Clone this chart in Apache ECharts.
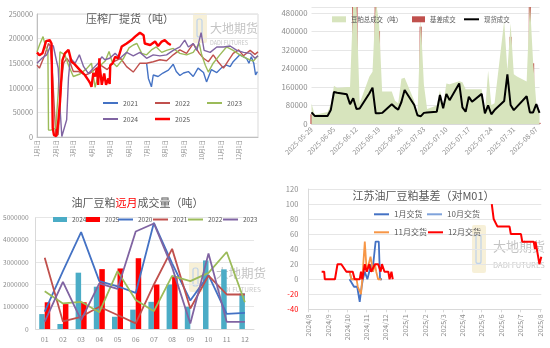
<!DOCTYPE html>
<html><head><meta charset="utf-8">
<script src="https://cdn.jsdelivr.net/npm/echarts@6/dist/echarts.min.js"></script>
<style>html,body{margin:0;padding:0;background:#fff}#c{width:550px;height:348px}</style>
</head><body><div id="c"></div>
<script>
const N = null;
const FONT = '"Noto Sans CJK SC","Noto Sans",sans-serif';
const GRAY = '#8C8C8C';
const TXT = '#595959';

// ---------- Panel 1: 压榨厂提货（吨） ----------
const monthStarts = [0,31,59,90,120,151,181,212,243,273,304,334];
const monthLabels = ['1月1日','2月1日','3月1日','4月1日','5月1日','6月1日','7月1日','8月1日','9月1日','10月1日','11月1日','12月1日'];
const d21 = [181,184,189,192,200,208,217,225,230,236,242,250,258,266,275,280,288,297,305,313,319,324,335,346,350,354,358,361,364];
const v21 = [150000,119000,102000,126000,123000,130000,136000,148000,133000,125000,130000,133000,123000,140000,131000,112000,137000,131000,141000,146000,143000,153000,167000,160000,150000,163000,150000,126000,133000];
const d22 = [0,4,13,19,22,26,31,35,40,44,49,55,60,69,80,88,96,105,116,127,138,148,159,170,181,192,203,214,225,236,247,258,268,275,283,291,299,308,316,324,333,341,352,360,365];
const v22 = [146000,140000,167000,190000,185000,120000,3000,5000,110000,150000,160000,150000,133000,133000,126000,130000,138000,146000,137000,153000,160000,143000,132000,150000,150000,153000,157000,155000,167000,177000,170000,190000,170000,160000,153000,167000,153000,140000,155000,170000,177000,165000,176000,168000,173000];
const d23 = [0,5,10,15,18,19,23,27,31,35,38,46,52,60,71,82,90,96,105,113,119,124,132,143,152,159,165,173,181,189,197,206,214,225,236,247,258,268,272,278,283,291,302,313,324,335,346,357,365];
const v23 = [173000,190000,204000,180000,175000,14000,14000,16000,18000,90000,173000,167000,146000,123000,128000,139000,150000,101000,146000,155000,174000,153000,143000,160000,181000,187000,190000,170000,167000,177000,183000,172000,176000,180000,170000,167000,172000,190000,167000,146000,132000,150000,167000,183000,176000,167000,160000,154000,165000];
const d24 = [0,8,16,23,27,32,35,38,41,43,49,52,55,63,70,77,85,93,101,107,112,120,129,137,148,159,170,181,192,203,214,225,236,244,250,258,264,271,276,286,297,308,319,330,341,352,360,365];
const v24 = [150000,160000,167000,187000,185000,156000,140000,60000,1000,0,35000,120000,160000,150000,167000,143000,129000,140000,150000,163000,157000,160000,170000,160000,172000,165000,172000,160000,167000,165000,167000,176000,183000,197000,183000,190000,176000,212000,176000,172000,183000,183000,185000,176000,172000,170000,160000,165000];
const d25 = [0,4,9,15,21,24,26,28,32,35,38,42,46,52,57,62,71,79,85,88,90,93,96,99,101,103,104,107,111,114,118,120,121,125,129,134,140,148,156,162,170,176,178,187,195,200,206,211,217,221];
const v25 = [172000,166000,170000,195000,197000,190000,18000,4000,2000,30000,72000,156000,170000,177000,153000,148000,136000,126000,115000,109000,102000,130000,123000,140000,106000,160000,140000,106000,129000,106000,119000,108000,146000,150000,163000,160000,184000,190000,197000,204000,212000,207000,190000,187000,194000,185000,194000,197000,190000,187000];

// ---------- Panel 2: 成交 ----------
const dates2 = ['2025-05-29','2025-05-30','2025-05-31',
'2025-06-01','2025-06-02','2025-06-03','2025-06-04','2025-06-05','2025-06-06','2025-06-07','2025-06-08','2025-06-09','2025-06-10',
'2025-06-11','2025-06-12','2025-06-13','2025-06-14','2025-06-15','2025-06-16','2025-06-17','2025-06-18','2025-06-19','2025-06-20',
'2025-06-21','2025-06-22','2025-06-23','2025-06-24','2025-06-25','2025-06-26','2025-06-27','2025-06-28','2025-06-29','2025-06-30',
'2025-07-01','2025-07-02','2025-07-03','2025-07-04','2025-07-05','2025-07-06','2025-07-07','2025-07-08','2025-07-09','2025-07-10',
'2025-07-11','2025-07-12','2025-07-13','2025-07-14','2025-07-15','2025-07-16','2025-07-17','2025-07-18','2025-07-19','2025-07-20',
'2025-07-21','2025-07-22','2025-07-23','2025-07-24','2025-07-25','2025-07-26','2025-07-27','2025-07-28','2025-07-29','2025-07-30',
'2025-07-31','2025-08-01','2025-08-02','2025-08-03','2025-08-04','2025-08-05','2025-08-06','2025-08-07','2025-08-08'];
const spot2 = [
50000,35000,N,N,N,35000,60000,138000,135000,N,
N,128000,85000,111000,65000,67000,N,N,132000,157000,
46000,46000,48000,N,N,85000,72000,62000,95000,147000,
N,N,82000,38000,33000,48000,50000,N,N,53000,
125000,68000,130000,103000,N,N,175000,72000,53000,118000,
96000,N,N,130000,46000,80000,42000,60000,N,N,
99000,214000,82000,60000,75000,N,N,120000,50000,50000,
86000,48000];
const basis2 = [
42000,N,N,N,N,17000,24000,27000,17000,N,
N,34000,17000,530000,530000,27000,N,N,72000,63000,
530000,401000,96000,N,N,53000,20000,24000,82000,56000,
N,N,20000,6000,420000,121000,10000,N,N,32000,
22000,14000,43000,68000,N,N,10000,6000,10000,68000,
53000,N,N,39000,3000,135000,39000,N,N,N,
226000,211000,376000,N,132000,N,N,60000,530000,262000,
20000,5000];
const total2 = [
89000,40000,N,N,N,52000,85000,165000,155000,N,
N,160000,160000,530000,530000,90000,N,N,204000,225000,
530000,447000,140000,N,N,140000,100000,90000,195000,200000,
N,N,100000,40000,455000,170000,65000,N,N,80000,
145000,80000,175000,172000,N,N,185000,180000,150000,150000,
150000,N,N,150000,48000,230000,82000,90000,N,N,
445000,230000,435000,215000,205000,N,N,183000,530000,270000,
90000,50000];

// ---------- Panel 3: 油厂豆粕远月成交量 ----------
const months3 = ['01','02','03','04','05','06','07','08','09','10','11','12'];
const v3_2024 = [670000,225000,2530000,1900000,550000,870000,1220000,2000000,1000000,3080000,2680000,1600000];
const v3_2025 = [1200000,1120000,1200000,2690000,2720000,3180000,2000000,2370000];
const v3_2020 = [780000,2600000,4350000,2150000,1920000,1620000,4770000,2950000,1280000,2420000,680000,720000];
const v3_2021 = [3200000,340000,550000,1000000,630000,250000,2000000,3600000,920000,2400000,1550000,1550000];
const v3_2022 = [1700000,1150000,1220000,750000,2600000,1300000,800000,2390000,2150000,2520000,3460000,1200000];
const v3_2023 = [330000,2120000,400000,2050000,1800000,4380000,4740000,2780000,250000,3390000,320000,320000];

// ---------- Panel 4: 江苏油厂豆粕基差 ----------
const months4 = ['2024/8','2024/9','2024/10','2024/11','2024/12','2025/1','2025/2','2025/3','2025/4','2025/5','2025/6','2025/7','2025/8'];
const d4_1 = ['2024-10-05','2024-10-12','2024-10-17','2024-10-21','2024-10-24','2024-10-26','2024-10-29','2024-11-02','2024-11-05','2024-11-08','2024-11-10','2024-11-15','2024-11-20','2024-11-22','2024-11-25'];
const v4_1 = [0,-10,-10,-30,-10,0,10,0,0,20,10,50,50,0,0];
const d4_10 = ['2024-09-30','2024-10-05','2024-10-08','2024-10-12'];
const v4_10 = [10,10,0,0];
const d4_11 = ['2024-10-05','2024-10-08','2024-10-16','2024-10-18','2024-10-23','2024-10-25','2024-10-29','2024-11-01','2024-11-04','2024-11-07','2024-11-11','2024-11-14','2024-11-16','2024-11-19','2024-11-24'];
const v4_11 = [10,0,0,-10,-20,0,50,10,10,30,10,20,10,0,0];
const d4_12 = ['2024-08-22','2024-08-26','2024-08-27','2024-09-12','2024-09-16','2024-09-22','2024-09-30','2024-10-10','2024-10-13','2024-10-21','2024-10-23','2024-10-25','2024-10-27','2024-10-29','2024-11-01','2024-11-05','2024-11-08','2024-11-10','2024-11-14','2024-11-19','2024-11-23','2024-11-25','2024-11-29','2024-12-05','2024-12-07','2024-12-10','2024-12-12',
'2025-01-01',
'2025-05-17','2025-05-20','2025-05-23','2025-05-26','2025-06-14','2025-06-16','2025-07-02','2025-07-04','2025-07-22','2025-07-24','2025-07-25','2025-07-27','2025-07-29','2025-07-31','2025-08-03'];
const v4_12 = [10,10,0,0,20,20,10,10,0,0,10,0,0,20,10,20,10,10,20,20,10,20,10,10,0,10,0,
N,
100,80,80,70,70,60,60,50,50,40,50,40,30,20,30];

// ---------- helpers ----------
const pairs = (xs, ys) => xs.map((x, i) => [x, ys[i]]);
const ts = s => { const p = s.split(/[-\/]/).map(Number); return new Date(p[0], p[1] - 1, p[2] || 1).getTime(); };
const tpairs = (xs, ys) => xs.map((x, i) => [ts(x), ys[i]]);
const m4Ticks = months4.map(ts);
const plain = v => String(v);

function leg(name, left, cy, fs, extra) {
  const o = Object.assign({
    data: [name], left: left, padding: 0, itemWidth: 15, itemHeight: 2,
    icon: 'rect', selectedMode: false, itemGap: 0,
    textStyle: { fontSize: fs, color: TXT, fontFamily: FONT, lineHeight: 10 }
  }, extra || {});
  o.top = cy - 5;
  return o;
}
const strip = n => n.slice(3);

function lineS(name, xi, data, color, width, extra) {
  return Object.assign({
    type: 'line', name: name, xAxisIndex: xi, yAxisIndex: xi, data: data,
    symbol: 'none', showSymbol: false, lineStyle: { width: width, color: color },
    itemStyle: { color: color }, emphasis: { disabled: true }
  }, extra || {});
}

function watermark(lx, ly, lh, tx, ty, fs, fy, fs2) {
  return [
    { type: 'rect', z: 0, shape: { x: lx, y: ly, width: 14, height: lh, r: 2 }, style: { fill: '#F4EBCB', opacity: 0.75 } },
    { type: 'rect', z: 0, shape: { x: lx + 4, y: ly + lh * 0.2, width: 5, height: lh * 0.6, r: 2 }, style: { fill: 'none', stroke: '#BFD3EA', lineWidth: 1.2 } },
    { type: 'text', z: 0, x: tx, y: ty, style: { text: '大地期货', fontSize: fs, fontFamily: FONT, fill: '#C4C4C4', align: 'left', verticalAlign: 'middle' } },
    { type: 'text', z: 0, x: tx, y: fy, style: { text: 'DADI FUTURES', fontSize: fs2, fontFamily: FONT, fill: '#C8C8C8', align: 'left', verticalAlign: 'middle' } }
  ];
}

const chart = echarts.init(document.getElementById('c'), null, { renderer: 'canvas' });
const axisLab = (fs, extra) => Object.assign({ fontSize: fs, color: GRAY, fontFamily: FONT }, extra || {});

const option = {
  animation: false,
  backgroundColor: '#fff',
  textStyle: { fontFamily: FONT },
  grid: [
    { left: 37, top: 14, width: 221, height: 123, show: true, borderColor: '#D9D9D9', borderWidth: 1, backgroundColor: 'transparent' },
    { left: 311.5, top: 7, width: 228, height: 117 },
    { left: 34, top: 217.7, width: 220, height: 111.3 },
    { left: 308.3, top: 189, width: 233, height: 120.3 }
  ],
  xAxis: [
    { gridIndex: 0, type: 'value', min: 0, max: 365,
      axisLine: { show: true, lineStyle: { color: '#BFBFBF' } }, axisTick: { show: false }, splitLine: { show: false },
      axisLabel: axisLab(5.5, { customValues: monthStarts, formatter: v => monthLabels[monthStarts.indexOf(v)], rotate: 90, margin: 3 }) },
    { gridIndex: 1, type: 'category', data: dates2, boundaryGap: false,
      axisLine: { lineStyle: { color: '#D9D9D9' } }, axisTick: { show: false },
      axisLabel: axisLab(7, { interval: 6, rotate: 45, margin: 4 }) },
    { gridIndex: 2, type: 'category', data: months3,
      axisLine: { lineStyle: { color: '#D9D9D9' } }, axisTick: { show: false },
      axisLabel: axisLab(7, { margin: 7 }) },
    { gridIndex: 3, type: 'value', min: ts('2024-08-01'), max: ts('2025-08-03'),
      axisLine: { show: true, onZero: false, lineStyle: { color: '#D9D9D9' } },
      axisTick: { show: true, customValues: m4Ticks, length: 3, lineStyle: { color: '#D9D9D9' } },
      splitLine: { show: false },
      axisLabel: axisLab(7, { customValues: m4Ticks, rotate: 90, margin: 5,
        formatter: v => months4[m4Ticks.indexOf(v)] }) }
  ],
  yAxis: [
    { gridIndex: 0, type: 'value', min: 0, max: 250000, interval: 50000,
      axisLine: { show: true, lineStyle: { color: '#BFBFBF' } }, axisTick: { show: false },
      splitLine: { lineStyle: { color: '#E8E8E8' } }, axisLabel: axisLab(7.3, { margin: 4, formatter: plain }) },
    { gridIndex: 1, type: 'value', min: 0, max: 505000, interval: 80000,
      axisLine: { show: false }, axisTick: { show: false },
      splitLine: { lineStyle: { color: '#E6E6E6' } }, axisLabel: axisLab(7.8, { margin: 4, showMaxLabel: false, formatter: plain }) },
    { gridIndex: 2, type: 'value', min: 0, max: 5000000, interval: 1000000,
      axisLine: { show: true, lineStyle: { color: '#D9D9D9' } }, axisTick: { show: false },
      splitLine: { lineStyle: { color: '#E6E6E6' } }, axisLabel: axisLab(6.6, { margin: 7, formatter: plain }) },
    { gridIndex: 3, type: 'value', min: -40, max: 120, interval: 20,
      axisLine: { show: true, lineStyle: { color: '#D9D9D9' } }, axisTick: { show: false },
      splitLine: { lineStyle: { color: '#E6E6E6' } },
      axisLabel: axisLab(7.5, { margin: 10, formatter: v => v < 0 ? '{r|' + v + '}' : String(v),
        rich: { r: { color: '#FF0000', fontSize: 7.5, fontFamily: FONT } } }) }
  ],
  legend: [
    leg('2021', 103, 103, 6.8), leg('2022', 155, 103, 6.8), leg('2023', 207, 103, 6.8),
    leg('2024', 103, 119, 6.8), leg('2025', 155, 119, 6.8, { itemHeight: 2.5 }),
    leg('豆粕总成交（吨）', 332, 19.3, 6.4, { itemWidth: 14, itemHeight: 6 }),
    leg('基差成交', 412, 19.3, 6.4, { itemWidth: 13, itemHeight: 6 }),
    leg('现货成交', 464, 19.3, 6.4),
    leg('p3_2024', 53, 219.5, 6.5, { itemWidth: 14, itemHeight: 5, formatter: strip }),
    leg('p3_2025', 86, 219.5, 6.5, { itemWidth: 14, itemHeight: 5, formatter: strip }),
    leg('p3_2020', 118, 219.5, 6.5, { formatter: strip }),
    leg('p3_2021', 153, 219.5, 6.5, { formatter: strip }),
    leg('p3_2022', 188, 219.5, 6.5, { formatter: strip }),
    leg('p3_2023', 223, 219.5, 6.5, { formatter: strip }),
    leg('1月交货', 374, 214.3, 8), leg('10月交货', 427, 214.3, 8),
    leg('11月交货', 374, 232.3, 8), leg('12月交货', 428, 232.3, 8)
  ],
  graphic: [
    ...watermark(193, 13, 30, 210, 28, 12, 43, 5.5),
    ...watermark(189, 262, 30, 216, 273, 12.5, 290, 6.5),
    ...watermark(472, 225, 48, 493, 246, 13, 265, 7.5),
    { type: 'text', z: 10, x: 130, y: 19, style: { text: '压榨厂提货（吨）', fontSize: 11, fontFamily: FONT, fill: TXT, align: 'center', verticalAlign: 'middle' } },
    { type: 'text', z: 10, x: 137.5, y: 202.5, style: { text: '{a|油厂豆粕}{b|远月}{a|成交量（吨）}', fontSize: 11, fontFamily: FONT, fill: TXT, align: 'center', verticalAlign: 'middle',
        rich: { a: { fontSize: 11, fontFamily: FONT, fill: TXT }, b: { fontSize: 11, fontFamily: FONT, fill: '#FF0000' } } } },
    { type: 'text', z: 10, x: 423.5, y: 195.5, style: { text: '江苏油厂豆粕基差（对M01）', fontSize: 11, fontFamily: FONT, fill: TXT, align: 'center', verticalAlign: 'middle' } }
  ],
  series: [
    lineS('2021', 0, pairs(d21, v21), '#4472C4', 1.4),
    lineS('2022', 0, pairs(d22, v22), '#C0504D', 1.4),
    lineS('2023', 0, pairs(d23, v23), '#9BBB59', 1.4),
    lineS('2024', 0, pairs(d24, v24), '#8064A2', 1.4),
    lineS('2025', 0, pairs(d25, v25), '#FF0000', 2.4),
    lineS('豆粕总成交（吨）', 1, total2, '#D7E4BD', 0, { connectNulls: true, areaStyle: { color: '#D7E4BD', opacity: 1 }, lineStyle: { width: 0, color: '#D7E4BD' } }),
    { type: 'bar', name: '基差成交', xAxisIndex: 1, yAxisIndex: 1, data: basis2, barWidth: 2.2, itemStyle: { color: '#C0504D' } },
    lineS('现货成交', 1, spot2, '#000000', 2, { connectNulls: true }),
    { type: 'bar', name: 'p3_2024', xAxisIndex: 2, yAxisIndex: 2, data: v3_2024, barWidth: 5.5, barGap: '0%', itemStyle: { color: '#4BACC6' } },
    { type: 'bar', name: 'p3_2025', xAxisIndex: 2, yAxisIndex: 2, data: v3_2025, barWidth: 5.5, barGap: '0%', itemStyle: { color: '#FF0000' } },
    lineS('p3_2020', 2, v3_2020, '#4472C4', 1.8),
    lineS('p3_2021', 2, v3_2021, '#C0504D', 1.8),
    lineS('p3_2022', 2, v3_2022, '#9BBB59', 1.8),
    lineS('p3_2023', 2, v3_2023, '#8064A2', 1.8),
    lineS('1月交货', 3, tpairs(d4_1, v4_1), '#4472C4', 1.8),
    lineS('10月交货', 3, tpairs(d4_10, v4_10), '#7FA3DB', 1.8),
    lineS('11月交货', 3, tpairs(d4_11, v4_11), '#F79646', 1.8),
    lineS('12月交货', 3, tpairs(d4_12, v4_12), '#FF0000', 2)
  ]
};
chart.setOption(option);
</script></body></html>
